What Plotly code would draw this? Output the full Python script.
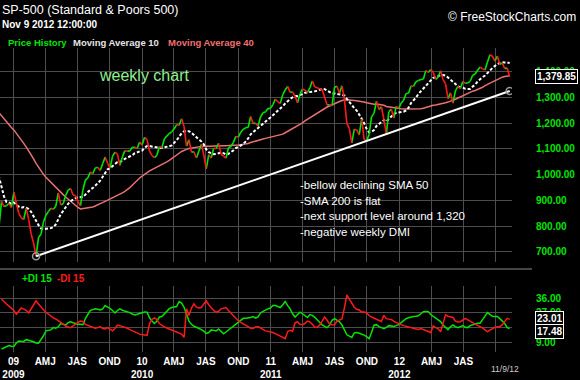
import plotly.graph_objects as go
import pandas as pd

# ---------------- data ----------------
# S&P 500 weekly closes (Friday), Jan 2008 .. Nov 9 2012
close_2008 = [1411.63, 1401.02, 1325.19, 1330.61, 1395.42, 1331.29, 1349.99, 1353.11, 1330.63,
              1293.37, 1288.14, 1329.51, 1315.22, 1370.40, 1332.83, 1390.33, 1397.84, 1413.90,
              1388.28, 1425.35, 1375.93, 1400.38, 1360.68, 1360.03, 1317.93, 1278.38, 1262.90,
              1239.49, 1260.68, 1257.76, 1260.31, 1296.32, 1298.20, 1292.20, 1282.83, 1242.31,
              1251.70, 1255.08, 1213.27, 1099.23, 899.22, 940.55, 876.77, 968.75, 930.99,
              873.29, 800.03, 896.24, 876.07, 879.73, 887.88, 872.80]
close_2009 = [931.80, 890.35, 850.12, 831.95, 825.88, 868.60, 826.84, 770.05, 735.09, 683.38,
              756.55, 768.54, 815.94, 842.50, 856.56, 869.60, 866.23, 877.52, 929.23, 882.88,
              887.00, 919.14, 940.09, 946.21, 921.23, 918.90, 896.42, 879.13, 940.38, 979.26,
              987.48, 1010.48, 1004.09, 1026.13, 1028.93, 1016.40, 1042.73, 1068.30, 1044.38,
              1025.21, 1071.49, 1087.68, 1079.60, 1036.19, 1069.30, 1093.48, 1091.38, 1091.49,
              1105.98, 1106.41, 1102.47, 1126.48]
close_2010 = [1115.10, 1144.98, 1136.03, 1091.76, 1073.87, 1066.19, 1075.51, 1109.17, 1104.49,
              1138.70, 1149.99, 1159.90, 1166.59, 1178.10, 1194.37, 1192.13, 1217.28, 1186.69,
              1110.88, 1135.68, 1087.69, 1089.41, 1064.88, 1091.60, 1117.51, 1076.76, 1022.58,
              1077.96, 1064.88, 1102.66, 1101.60, 1121.64, 1079.25, 1071.69, 1064.59, 1104.51,
              1109.55, 1125.59, 1148.67, 1146.24, 1165.15, 1176.19, 1183.08, 1183.26, 1225.85,
              1199.21, 1199.73, 1189.40, 1224.71, 1240.40, 1243.91, 1256.77, 1257.64]
close_2011 = [1271.50, 1293.24, 1283.35, 1276.34, 1310.87, 1329.15, 1343.01, 1319.88, 1321.15,
              1304.28, 1279.20, 1313.80, 1332.41, 1328.17, 1319.68, 1337.38, 1363.61, 1340.20,
              1337.77, 1333.27, 1331.10, 1300.16, 1270.98, 1271.50, 1268.45, 1339.67, 1343.80,
              1316.14, 1345.02, 1292.28, 1199.38, 1178.81, 1123.53, 1176.80, 1173.97, 1154.23,
              1216.01, 1136.43, 1131.42, 1155.46, 1224.58, 1238.25, 1285.09, 1253.23, 1263.85,
              1215.65, 1158.67, 1244.28, 1255.19, 1219.66, 1265.33, 1257.60]
close_2012 = [1277.81, 1289.09, 1315.38, 1316.33, 1344.90, 1342.64, 1361.23, 1365.74, 1369.63,
              1370.87, 1404.17, 1397.11, 1408.47, 1398.08, 1370.26, 1378.53, 1403.36, 1369.10,
              1353.39, 1295.22, 1317.82, 1278.04, 1325.66, 1342.84, 1335.02, 1362.16, 1354.68,
              1356.78, 1362.66, 1385.97, 1390.99, 1405.87, 1418.16, 1411.13, 1406.58, 1437.92,
              1465.77, 1460.15, 1440.67, 1460.93, 1428.59, 1433.19, 1411.94, 1414.20, 1379.85]
first_week = "2008-01-04"

# DMI(15) weekly values, Nov 28 2008 .. Nov 9 2012
dmi_first_week = "2008-11-28"
plus_di = [4.9, 5.5, 6.2, 7, 6.6, 6.4, 8.5, 9.8, 9.6, 9.5, 10.6, 10.4, 9.8, 9.3, 8.6, 8.5, 10.5, 13, 16, 16.3,
           16.6, 18, 17.6, 18.5, 20.5, 20, 19.6, 21, 21.5, 21, 20.5, 20.1, 20, 19.8, 23.5, 26.5, 28.5, 29, 29.5, 29.2,
           28.8, 29.5, 31.5, 30.5, 29.8, 28.5, 27, 28.5, 29.5, 28.6, 28.2, 27.8,
           27.2, 26.3, 25.8, 26.2, 26.6, 27.1, 27.6, 27.5, 24, 22, 20.5, 22, 24.5, 24.8, 26.5, 28, 29.6, 30.3, 30.6, 30.9,
           34, 33, 30.5, 26.5, 22, 20, 18.8, 18.2, 17.7, 16.8, 15.8, 14.4, 15, 16.6, 16.3, 16, 17.2, 15.8, 14.2, 15.3,
           16.5, 17.6, 18.8, 20.2, 21.5, 22.6, 23.7, 23.7, 23.8, 24.2, 24.8, 23.8,
           24.5, 27, 28, 29, 29.5, 30, 31.5, 31.5, 30.8, 30.3, 32, 34, 31.5, 29.5, 26.5, 24.5, 26, 27.5, 26.5, 25.2,
           24.2, 26, 25.5, 24.3, 22.8, 21, 19.6, 18.8, 18, 19.5, 22.5, 23.5, 22.7, 21.5, 19.6, 16.5, 13.6, 12.8, 12, 14.8,
           15, 14.5, 14, 13.4, 12.5, 11.2, 15, 19.5, 19.8, 18.6, 18, 17.3,
           18.2, 19.2, 19, 18.7, 19.2, 19.8, 21, 22.4, 23.5, 24, 24.5, 24.8, 25, 25.3, 26.5, 27.8, 27.9, 27.8, 26, 24.8,
           23.8, 22.6, 21.7, 19.6, 18, 16.8, 18.5, 19.6, 18.6, 18, 18.6, 19.2, 18.2, 18, 19.2, 19.8, 20.4, 20.7, 20.7, 22.5,
           25, 27.2, 25.8, 24.9, 24.8, 24.8, 23.5, 22.2, 20.5, 18, 17.48]
minus_di = [35.5, 33.8, 32.5, 31.2, 30, 28.5, 26.2, 28.5, 30, 29.3, 28.6, 27, 29.5, 31.5, 34.4, 32.5, 30.5, 29, 27.4, 26.2,
            25, 24, 23.3, 22, 21.2, 20.2, 19, 18.4, 18, 19, 20.2, 21.2, 22, 21.8, 20, 19.3, 18.6, 18.1, 17.6, 18,
            18.6, 17.4, 17.2, 18, 17.2, 16, 17.5, 19.5, 19.2, 18.8, 18, 17.6,
            16.8, 16, 15.5, 14.8, 14, 13.8, 13.6, 13.2, 20.5, 23, 24, 23, 20.5, 19.2, 18.4, 17.8, 17.2, 16.6, 15.9, 15.4,
            14.8, 14, 12, 29.5, 25.5, 30, 32.5, 30.5, 30, 30.3, 32.5, 34.4, 32, 29.9, 28.5, 27.4, 28, 29.5, 30, 30.3,
            28.5, 27, 25.5, 23.5, 22.2, 21.2, 20.2, 19.4, 18.6, 17.6, 17.4, 18.4,
            18.6, 17.6, 16.8, 16, 15.7, 15.4, 15, 14.3, 13.5, 12.8, 12, 11.2, 15.5, 16.4, 15.8, 21, 21.5, 20, 19.7, 20.5,
            22, 21.5, 20, 18.2, 18.2, 19.5, 22, 24.5, 22.5, 20.2, 19.8, 19.6, 22, 22.8, 23.3, 30, 38, 35.5, 32.5, 30.5,
            29.2, 28.8, 27.5, 27.6, 27, 25.4, 24.5, 23.7, 22.9, 22.4, 21.8, 25.5,
            23.5, 23.2, 23, 21.8, 21, 20.4, 19.8, 19.2, 18.7, 18.3, 17.9, 17.6, 17.2, 16.8, 17.4, 16.9, 16.2, 15.6, 14.9, 19,
            18, 17.3, 15.5, 20, 25.8, 25, 24.6, 24.2, 22, 21.4, 21.6, 22.5, 23.7, 22.8, 22.1, 21, 20.1, 19.4, 18.6, 17.8,
            16.6, 15.6, 16.5, 17.4, 18.2, 18.6, 18.6, 19.8, 21.5, 23.7, 23.01]

# trend line anchors (support line drawn on chart)
trend_dates = ["2009-03-06", "2012-11-09"]
trend_values = [683.38, 1325.0]

# axis ticks
quarter_ticks = ["2009-01-01", "2009-04-01", "2009-07-01", "2009-10-01",
                 "2010-01-01", "2010-04-01", "2010-07-01", "2010-10-01",
                 "2011-01-01", "2011-04-01", "2011-07-01", "2011-10-01",
                 "2012-01-01", "2012-04-01", "2012-07-01", "2012-10-01"]
quarter_labels = ["09<br>2009", "AMJ", "JAS", "OND",
                  "10<br>2010", "AMJ", "JAS", "OND",
                  "11<br>2011", "AMJ", "JAS", "OND",
                  "12<br>2012", "AMJ", "JAS", ""]
price_ticks = [700, 800, 900, 1000, 1100, 1200, 1300, 1400]
dmi_ticks = [9, 18, 27, 36]
x_range = ["2008-11-23 17:00", "2012-11-15 14:00"]

# ---------------- build ----------------
closes = close_2008 + close_2009 + close_2010 + close_2011 + close_2012
dates = pd.date_range(first_week, periods=len(closes), freq="W-FRI")
s = pd.Series(closes, index=dates)
ma10 = s.rolling(10).mean()
ma40 = s.rolling(40).mean()
dmi_dates = pd.date_range(dmi_first_week, periods=len(plus_di), freq="W-FRI")

up_x, up_y, dn_x, dn_y = [], [], [], []
for i in range(1, len(closes)):
    if closes[i] >= closes[i - 1]:
        up_x += [dates[i - 1], dates[i], None]
        up_y += [closes[i - 1], closes[i], None]
    else:
        dn_x += [dates[i - 1], dates[i], None]
        dn_y += [closes[i - 1], closes[i], None]

W, H = 580, 380
PX = lambda x: x / W
PY = lambda y: 1 - y / H

GREEN = "#00e600"
RED = "#ff1a1a"
GRID = "#4d4d4d"
FONT = "Liberation Sans"

fig = go.Figure()
fig.add_trace(go.Scatter(x=dates, y=ma40, mode="lines", line=dict(color="#e87272", width=1.5),
                         xaxis="x", yaxis="y", hoverinfo="skip"))
fig.add_trace(go.Scatter(x=dates, y=ma10, mode="lines", line=dict(color="#ffffff", width=2, dash="3px,2px"),
                         xaxis="x", yaxis="y", hoverinfo="skip"))
fig.add_trace(go.Scatter(x=up_x, y=up_y, mode="lines", line=dict(color=GREEN, width=1.6),
                         xaxis="x", yaxis="y", connectgaps=False))
fig.add_trace(go.Scatter(x=dn_x, y=dn_y, mode="lines", line=dict(color=RED, width=1.6),
                         xaxis="x", yaxis="y", connectgaps=False))
fig.add_trace(go.Scatter(x=trend_dates, y=trend_values, mode="lines+markers",
                         line=dict(color="#ffffff", width=2),
                         marker=dict(symbol="circle-open", size=7, color="#9a9a9a", line=dict(width=1.5)),
                         xaxis="x", yaxis="y"))
fig.add_trace(go.Scatter(x=dmi_dates, y=plus_di, mode="lines", line=dict(color=GREEN, width=1.5),
                         xaxis="x2", yaxis="y2"))
fig.add_trace(go.Scatter(x=dmi_dates, y=minus_di, mode="lines", line=dict(color=RED, width=1.5),
                         xaxis="x2", yaxis="y2"))

xdom = [0, PX(512)]
common_x = dict(range=x_range, type="date", domain=xdom, tickmode="array", tickvals=quarter_ticks,
                showgrid=True, gridcolor=GRID, gridwidth=1, zeroline=False, showline=False, ticks="",
                automargin=False)
fig.update_layout(
    width=W, height=H, margin=dict(l=0, r=0, t=0, b=0, pad=0),
    paper_bgcolor="black", plot_bgcolor="black", showlegend=False,
    font=dict(family=FONT, color="white", size=10),
    xaxis=dict(anchor="y", showticklabels=False, **common_x),
    xaxis2=dict(anchor="y2", ticktext=quarter_labels, showticklabels=True,
                tickfont=dict(family=FONT, size=10, color="white", weight="bold"),
                ticklabelstandoff=2, **common_x),
    yaxis=dict(domain=[PY(262), PY(48)], range=[661, 1492], side="right", anchor="x",
               tickmode="array", tickvals=price_ticks, tickformat=",.2f",
               tickfont=dict(family=FONT, size=10, color=GREEN, weight="bold"),
               showgrid=True, gridcolor=GRID, zeroline=False, showline=False, ticks="",
               ticklabelstandoff=23, automargin=False),
    yaxis2=dict(domain=[PY(352), PY(286)], range=[3.05, 43.5], side="right", anchor="x2",
                tickmode="array", tickvals=dmi_ticks, tickformat=".2f",
                tickfont=dict(family=FONT, size=10, color=GREEN, weight="bold"),
                showgrid=True, gridcolor=GRID, zeroline=False, showline=False, ticks="",
                ticklabelstandoff=23, automargin=False),
)

fig.add_shape(type="line", xref="paper", yref="paper", x0=0, x1=PX(532), y0=PY(269), y1=PY(269),
              line=dict(color="#8a8a8a", width=1))

def label(text, x, y, color="white", size=10, bold=False, xanchor="left", **kw):
    fig.add_annotation(text=text, xref="paper", yref="paper", x=PX(x), y=PY(y),
                       xanchor=xanchor, yanchor="middle", showarrow=False,
                       font=dict(family=FONT, size=size, color=color, weight="bold" if bold else "normal"),
                       **kw)

label("SP-500 (Standard &amp; Poors 500)", 0, 10, size=12.5)
label("Nov 9 2012 12:00:00", 0, 25, size=10, bold=True)
label("© FreeStockCharts.com", 578, 17, size=12, xanchor="right")
label("Price History", 6, 42, color=GREEN, size=9.5, bold=True)
label("Moving Average 10", 71, 42, color="#e6e6e6", size=9.5, bold=True)
label("Moving Average 40", 166, 42, color="#f07070", size=9.5, bold=True)
label("weekly chart", 144, 76, color="#90ee90", size=16, xanchor="center")
for txt, yy in [("-bellow declining SMA 50", 185), ("-SMA 200 is flat", 201),
                ("-next support level around 1,320", 216), ("-negative weekly DMI", 232)]:
    label(txt, 298, yy, size=11.5)
label("+DI 15", 20, 278, color=GREEN, size=10, bold=True)
label("-DI 15", 55, 278, color=RED, size=10, bold=True)
label("11/9/12", 505, 369, color="#cccccc", size=8.5, xanchor="center")

def box(text, yref, yval, yshift=0):
    fig.add_annotation(text=text, xref="paper", yref=yref, x=PX(535), y=yval, xanchor="left",
                       yanchor="middle", showarrow=False, bgcolor="black", bordercolor="white",
                       borderwidth=1, borderpad=1, yshift=yshift,
                       font=dict(family=FONT, size=10, color="white", weight="bold"))

box(f"{closes[-1]:,.2f}", "y", closes[-1])
box(f"{minus_di[-1]:.2f}", "y2", minus_di[-1], yshift=0.5)
box(f"{plus_di[-1]:.2f}", "y2", plus_di[-1], yshift=-3)

fig.write_html("out.html", config={"displayModeBar": False},
               post_script="document.body.style.margin='0px';document.body.style.padding='0px';"
                           "document.documentElement.style.overflow='hidden';")
